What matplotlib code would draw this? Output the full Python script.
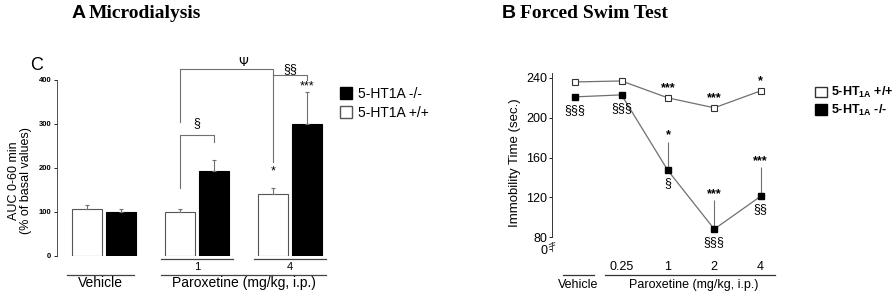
import numpy as np
import matplotlib
matplotlib.use('Agg')
import matplotlib.pyplot as plt
from matplotlib.patches import Patch

plt.rcParams['font.family'] = ['Liberation Sans', 'DejaVu Sans']
plt.rcParams['mathtext.fontset'] = 'custom'
plt.rcParams['mathtext.rm'] = 'Liberation Sans'
plt.rcParams['mathtext.it'] = 'Liberation Sans'
plt.rcParams['mathtext.bf'] = 'Liberation Sans:bold'

# --- panel A data (AUC 0-60 min, % of basal) ---
groups = ['Vehicle', '1', '4']
wt_auc = [106, 99, 141]
wt_err = [9, 8, 14]
ko_auc = [99, 193, 300]
ko_err = [7, 25, 73]

# --- panel B data (immobility time, sec.) ---
doses = ['Vehicle', '0.25', '1', '2', '4']
wt_imm = [236, 237, 220, 210, 227]
ko_imm = [221, 223, 147, 88, 121]
ko_err_up = [0, 0, 29, 29, 29]
wt_stars = ['', '', '***', '***', '*']
ko_stars = ['', '', '*', '***', '***']
ko_sect = ['§§§', '§§§', '§', '§§§', '§§']

W, H = 892, 299
fig = plt.figure(figsize=(W / 100, H / 100), dpi=100)

def pos(x0, x1, ytop, ybot):
    return [x0 / W, (H - ybot) / H, (x1 - x0) / W, (ybot - ytop) / H]

grey = '#707070'

# ================= panel A =================
ax = fig.add_axes(pos(57, 330, 80, 256))
xc = np.arange(len(groups))
off, bw = 0.183, 0.32
ax.bar(xc - off, wt_auc, bw, color='white', edgecolor='#555555', linewidth=0.8)
ax.bar(xc + off, ko_auc, bw, color='black', edgecolor='black', linewidth=0.8)
ax.errorbar(xc - off, wt_auc, yerr=[np.zeros(3), wt_err], fmt='none',
            ecolor=grey, elinewidth=0.8, capsize=1.5, capthick=0.8)
ax.errorbar(xc + off, ko_auc, yerr=[np.zeros(3), ko_err], fmt='none',
            ecolor=grey, elinewidth=0.8, capsize=1.5, capthick=0.8)
ax.set_xlim(-0.505, 2.43)
ax.set_ylim(0, 400)
ax.set_yticks([0, 100, 200, 300, 400])
ax.tick_params(axis='y', labelsize=5.5, length=2, width=0.6, pad=2)
for t in ax.get_yticklabels():
    t.set_fontweight('bold')
ax.set_xticks([])
for s in ['top', 'right', 'bottom']:
    ax.spines[s].set_visible(False)
ax.spines['left'].set_linewidth(0.6)
ax.spines['left'].set_color('#333333')

kw = dict(color=grey, lw=0.8, clip_on=False)
# § bracket
ax.plot([1 - off, 1 - off, 1 + off, 1 + off], [155, 275, 275, 259], **kw)
ax.text(1, 302, '§', ha='center', va='center', fontsize=9)
# Ψ bracket
ax.plot([1 - off, 1 - off, 2 - off, 2 - off], [305, 425, 425, 214], **kw)
ax.text(1.5, 440, 'Ψ', ha='center', va='center', fontsize=9, family='DejaVu Sans')
# §§ bracket
ax.plot([2 - off, 2 + off, 2 + off], [411, 411, 400], **kw)
ax.text(2, 425, '§§', ha='center', va='center', fontsize=9)
ax.text(2 + off, 385, '***', ha='center', va='center', fontsize=9)
ax.text(2 - off, 192, '*', ha='center', va='center', fontsize=9)

# bottom labels
for i in [1, 2]:
    ax.plot([i - off - 0.2, i + off + 0.2], [-7, -7], color='#444444', lw=0.9, clip_on=False)
    ax.text(i, -25, groups[i], ha='center', va='center', fontsize=8)
ax.plot([-0.4, 0.32], [-43, -43], color='#444444', lw=0.9, clip_on=False)
ax.plot([1 - off - 0.2, 2 + off + 0.2], [-43, -43], color='#444444', lw=0.9, clip_on=False)
ax.text(-0.04, -61, 'Vehicle', ha='center', va='center', fontsize=10)
ax.text(1.5, -61, 'Paroxetine (mg/kg, i.p.)', ha='center', va='center', fontsize=10)

fig.text(20 / W, 1 - 181 / H, 'AUC 0-60 min\n(% of basal values)', rotation=90,
         ha='center', va='center', fontsize=9, linespacing=1.05, multialignment='center')
fig.text(37 / W, 1 - 65 / H, 'C', fontsize=13, ha='center', va='center')

ax.legend(handles=[Patch(facecolor='black', edgecolor='black', label='5-HT1A -/-'),
                   Patch(facecolor='white', edgecolor='#555555', label='5-HT1A +/+')],
          loc='upper left', bbox_to_anchor=(333 / W, 1 - 80 / H), bbox_transform=fig.transFigure,
          frameon=False, fontsize=10, handlelength=0.9, handleheight=0.9,
          handletextpad=0.4, labelspacing=0.35, borderpad=0)

fig.text(72 / W, 1 - 14 / H, 'A', fontsize=14, fontweight='bold', va='center')
fig.text(89 / W, 1 - 14 / H, 'Microdialysis', fontsize=14, fontweight='bold',
         family='Liberation Serif', va='center')

# ================= panel B =================
bx = fig.add_axes(pos(552, 800, 73, 252))
xs = np.arange(len(doses))
bx.errorbar(xs, ko_imm, yerr=[np.zeros(5), ko_err_up], fmt='none',
            ecolor=grey, elinewidth=0.8, capsize=0)
bx.plot(xs, wt_imm, '-s', color=grey, lw=0.9, markersize=5,
        markerfacecolor='white', markeredgecolor='#333333', markeredgewidth=0.8)
bx.plot(xs, ko_imm, '-s', color=grey, lw=0.9, markersize=5,
        markerfacecolor='black', markeredgecolor='black')
bx.set_xlim(-0.5, 4.85)
bx.set_ylim(65, 245)
bx.set_yticks([68, 80, 120, 160, 200, 240])
bx.set_yticklabels(['0', '80', '120', '160', '200', '240'])
bx.tick_params(axis='y', labelsize=9, length=2.5, width=0.6, pad=1)
bx.set_xticks([])
for s in ['top', 'right', 'bottom']:
    bx.spines[s].set_visible(False)
bx.spines['left'].set_linewidth(0.7)
bx.spines['left'].set_color('#333333')
bx.spines['left'].set_bounds(80, 245)
# axis break stub near 0
bkw = dict(color='#333333', lw=0.6, clip_on=False)
bx.plot([-0.5, -0.5], [66, 75], **bkw)
bx.plot([-0.56, -0.44], [72.5, 74.5], **bkw)
bx.plot([-0.56, -0.44], [70, 72], **bkw)

for i in xs:
    if wt_stars[i]:
        bx.text(i, wt_imm[i] + 10, wt_stars[i], ha='center', va='center',
                fontsize=9, fontweight='bold')
    if ko_stars[i]:
        bx.text(i, ko_imm[i] + ko_err_up[i] + 6, ko_stars[i], ha='center', va='center',
                fontsize=9, fontweight='bold')
for i, lab in enumerate(ko_sect):
    bx.text(i, ko_imm[i] - 13, lab, ha='center', va='center', fontsize=9)

for i in range(1, 5):
    bx.text(i, 50, doses[i], ha='center', va='center', fontsize=9, clip_on=False)
bx.plot([-0.27, 0.4], [42, 42], color='#333333', lw=0.9, clip_on=False)
bx.plot([0.65, 4.3], [42, 42], color='#333333', lw=0.9, clip_on=False)
bx.text(0.07, 32, 'Vehicle', ha='center', va='center', fontsize=9, clip_on=False)
bx.text(2.55, 32, 'Paroxetine (mg/kg, i.p.)', ha='center', va='center', fontsize=9, clip_on=False)
bx.set_ylabel('Immobility Time (sec.)', fontsize=9.5, labelpad=4)

bx.legend(handles=[Patch(facecolor='white', edgecolor='#333333',
                         label='5-HT$_{\\mathbf{1A}}$ +/+'),
                   Patch(facecolor='black', edgecolor='black',
                         label='5-HT$_{\\mathbf{1A}}$ -/-')],
          loc='upper left', bbox_to_anchor=(809 / W, 1 - 79 / H), bbox_transform=fig.transFigure,
          frameon=False, prop={'size': 9, 'weight': 'bold'}, handlelength=0.95, handleheight=0.95,
          handletextpad=0.3, labelspacing=0.2, borderpad=0)

fig.text(502 / W, 1 - 14 / H, 'B', fontsize=14, fontweight='bold', va='center')
fig.text(520 / W, 1 - 14 / H, 'Forced Swim Test', fontsize=14, fontweight='bold',
         family='Liberation Serif', va='center')

fig.savefig('out.png', dpi=100)
